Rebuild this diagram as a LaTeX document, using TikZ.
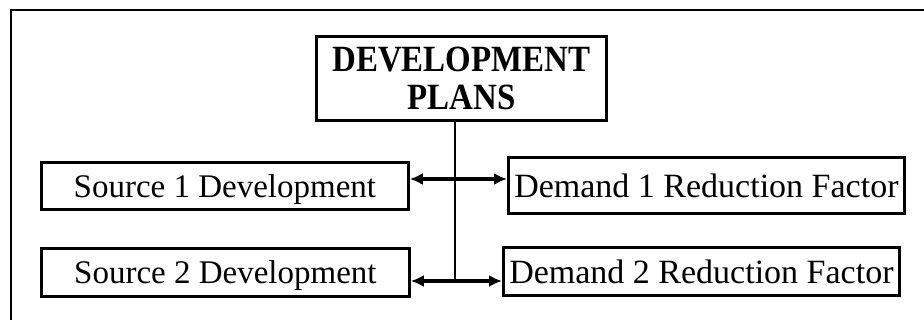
\documentclass[tikz,border=0pt]{standalone}
\usepackage{fontspec}
\setmainfont{Liberation Serif}
\usetikzlibrary{arrows.meta}
\newcommand{\tallcaps}[1]{\scalebox{0.89}[1]{#1}}
\begin{document}
\begin{tikzpicture}[x=1pt,y=-1pt,
  framestyle/.style={line width=1.5pt},
  boxstyle/.style={draw=black, line width=2.8pt, rectangle, inner sep=0pt,
    anchor=north west, text depth=0pt},
  planbox/.style={boxstyle, font=\bfseries\fontsize{37}{38}\selectfont, align=center},
  itembox/.style={boxstyle, font=\fontsize{33}{39}\selectfont},
  demandbox/.style={itembox, font=\fontsize{34}{39}\selectfont},
  trunk/.style={line width=2.2pt},
  biarrow/.style={line width=3.2pt, -{Latex[length=13pt,width=12pt]}}
]
\useasboundingbox (0,0) rectangle (924,320);

% open frame around the chart
\draw[framestyle] (11,320) -- (11,10) -- (924,10);

% boxes
\node[planbox, minimum width=290pt, minimum height=84pt] (plans) at (315,35)
  {\tallcaps{DEVELOPMENT}\\\tallcaps{PLANS}};
\node[itembox, minimum width=367pt, minimum height=47pt] (s1) at (40,161)
  {Source 1 Development};
\node[itembox, minimum width=368pt, minimum height=48pt] (s2) at (40,247)
  {Source 2 Development};
\node[demandbox, minimum width=396pt, minimum height=56pt] (d1) at (507,156)
  {Demand 1 Reduction Factor};
\node[demandbox, minimum width=396pt, minimum height=48pt] (d2) at (502,246)
  {Demand 2 Reduction Factor};

% junctions on the vertical trunk
\coordinate (j1) at (455,179);
\coordinate (j2) at (455,281);

\draw[trunk] (plans.south -| j1) -- (j2);
\draw[biarrow] (j1) -- (s1.east |- j1);
\draw[biarrow] (j1) -- (d1.west |- j1);
\draw[biarrow] (j2) -- (s2.east |- j2);
\draw[biarrow] (j2) -- (d2.west |- j2);
\end{tikzpicture}
\end{document}
